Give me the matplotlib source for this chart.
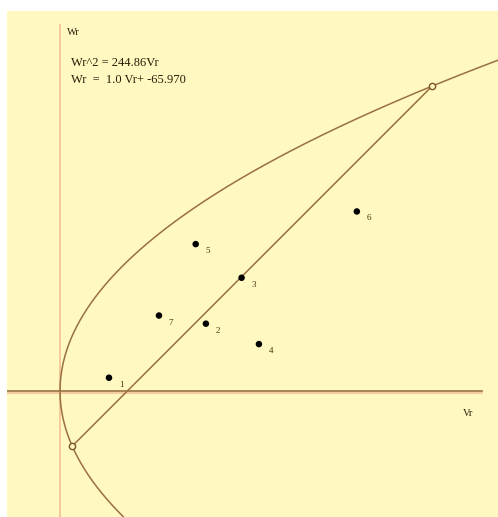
"""Parabola Wr^2 = k*Vr with a regression line and labelled sample points."""

import matplotlib

matplotlib.use("Agg")
import matplotlib.pyplot as plt
import matplotlib.transforms as mtransforms
import numpy as np

BG_COLOR = "#FFF8C0"
CURVE_COLOR = "#9A7040"
AXIS_PINK = "#F5C89A"
TEXT_COLOR = "#2A1C08"

# data
point_labels = ["1", "2", "3", "4", "5", "6", "7"]
point_vr = [48, 143, 178, 195, 133, 291, 97]
point_wr = [13, 66, 111, 46, 144, 176, 74]

parabola_k = 244.86
line_slope = 1.0
line_intercept = -65.970

XMIN, XMAX = -52.0, 429.4
YMIN, YMAX = -123.5, 372.5

fig = plt.figure(figsize=(4.98, 5.17), dpi=100)
fig.patch.set_facecolor("white")
ax = fig.add_axes([7 / 498, 0, 491 / 498, 506 / 517])
ax.set_facecolor(BG_COLOR)
ax.set_xlim(XMIN, XMAX)
ax.set_ylim(YMIN, YMAX)
for spine in ax.spines.values():
    spine.set_visible(False)
ax.set_xticks([])
ax.set_yticks([])

# axes through the origin
ax.plot([0, 0], [YMIN, 359], color=AXIS_PINK, lw=1.4, zorder=1)
below = mtransforms.offset_copy(ax.transData, fig=fig, x=0, y=-1.6, units="dots")
ax.plot([XMIN, 414], [0, 0], color=AXIS_PINK, lw=1.3, transform=below, zorder=1)
ax.plot([XMIN, 414], [0, 0], color=CURVE_COLOR, lw=1.2, zorder=2)

# parabola Wr^2 = k * Vr
wr = np.linspace(YMIN, 340, 400)
ax.plot(wr ** 2 / parabola_k, wr, color=CURVE_COLOR, lw=1.1, zorder=3)

# intersections of line and parabola
b = line_slope * line_intercept * 2 - parabola_k
a = line_slope ** 2
c = line_intercept ** 2
disc = np.sqrt(b * b - 4 * a * c)
vr_hits = np.array([(-b - disc) / (2 * a), (-b + disc) / (2 * a)])
wr_hits = line_slope * vr_hits + line_intercept
ax.plot(vr_hits, wr_hits, color=CURVE_COLOR, lw=1.1, zorder=3)
ax.plot(vr_hits, wr_hits, ls="none", marker="o", ms=4.5, mfc=BG_COLOR,
        mec="#7A5428", mew=1.0, zorder=4)

# sample points
ax.scatter(point_vr, point_wr, s=22, c="black", edgecolors="none", zorder=5)
for lab, x, y in zip(point_labels, point_vr, point_wr):
    ax.annotate(lab, (x, y), xytext=(12, -7), textcoords="offset pixels",
                ha="center", va="center", fontsize=6.5, family="Liberation Serif",
                color="#4A3010")

serif = dict(family="Liberation Serif", color=TEXT_COLOR)
ax.text(7, 351, "Wr", fontsize=7.5, ha="left", va="center", **serif)
ax.text(10.5, 321.5, "Wr^2 = 244.86Vr", fontsize=9, ha="left", va="center", **serif)
ax.text(10.5, 305, "Wr  =  1.0 Vr+ -65.970", fontsize=9, ha="left", va="center", **serif)
ax.text(400, -22.5, "Vr", fontsize=7.5, ha="center", va="center", **serif)

fig.savefig("out.png", dpi=100, facecolor=fig.get_facecolor())
